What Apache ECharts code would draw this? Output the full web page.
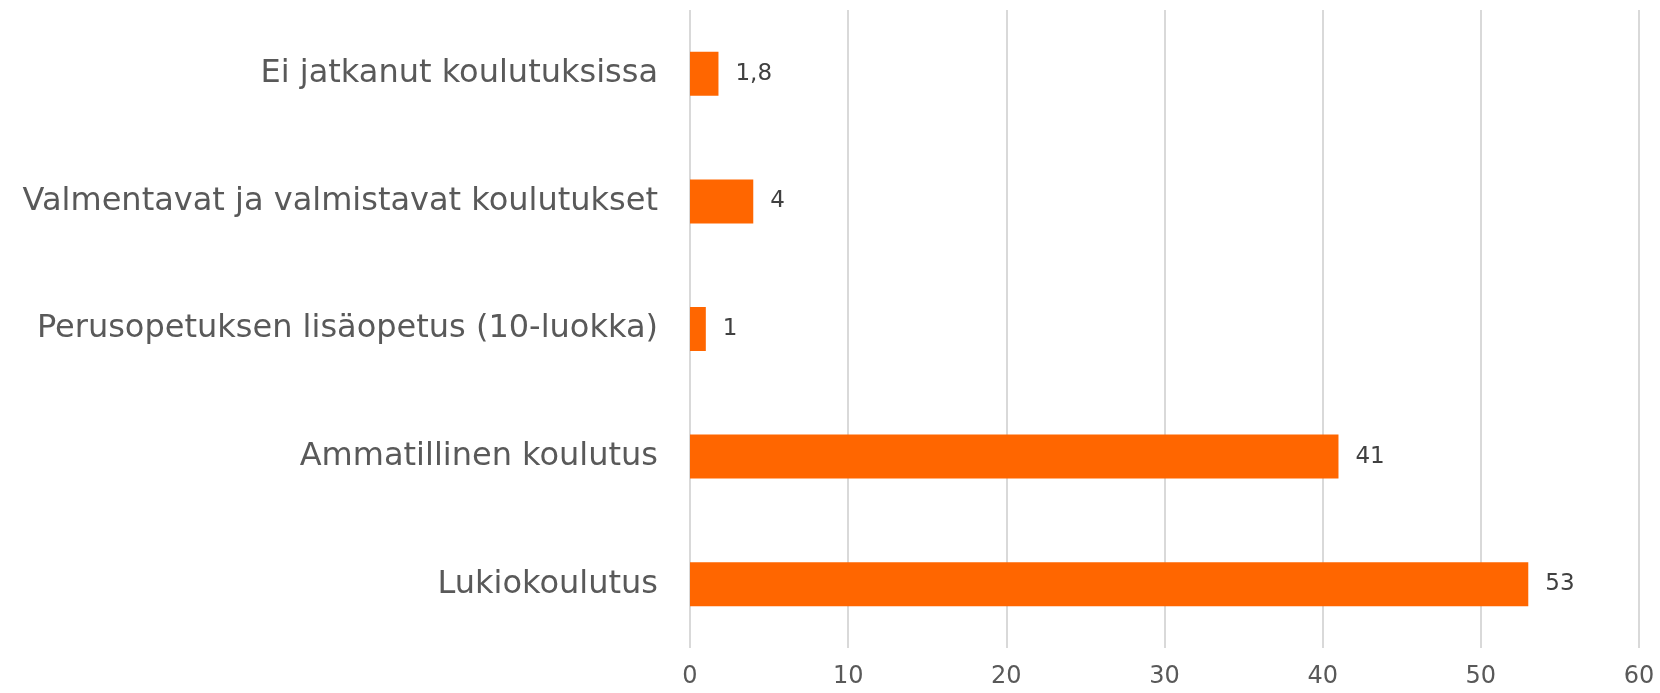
<!DOCTYPE html>
<html>
<head>
<meta charset="utf-8">
<script src="https://cdn.jsdelivr.net/npm/echarts@6/dist/echarts.min.js"></script>
<style>
  html, body { margin: 0; padding: 0; background: #fff; }
  #main { width: 1660px; height: 693px; }
</style>
</head>
<body>
<div id="main"></div>
<script>
  // data
  var categories = [
    'Ei jatkanut koulutuksissa',
    'Valmentavat ja valmistavat koulutukset',
    'Perusopetuksen lisäopetus (10-luokka)',
    'Ammatillinen koulutus',
    'Lukiokoulutus'
  ];
  var values = [1.8, 4, 1, 41, 53];
  var xTicks = [0, 10, 20, 30, 40, 50, 60];

  var myChart = echarts.init(document.getElementById('main'));

  var option = {
    animation: false,
    grid: { left: 690, right: 21, top: 10, bottom: 45 },
    xAxis: {
      type: 'value',
      min: xTicks[0],
      max: xTicks[xTicks.length - 1],
      interval: 10,
      axisLine: { show: false },
      axisTick: { show: false },
      splitLine: { lineStyle: { color: '#d9d9d9', width: 2 } },
      axisLabel: { color: '#595959', fontSize: 24, fontFamily: 'DejaVu Sans', margin: 17 }
    },
    yAxis: {
      type: 'category',
      inverse: true,
      data: categories,
      axisLine: { show: false },
      axisTick: { show: false },
      axisLabel: { color: '#595959', fontSize: 32, fontFamily: 'DejaVu Sans', margin: 32 }
    },
    series: [{
      type: 'bar',
      data: values,
      barWidth: 44,
      itemStyle: { color: '#ff6600' },
      label: {
        show: true,
        position: 'right',
        distance: 17,
        color: '#404040',
        fontSize: 23,
        fontFamily: 'DejaVu Sans',
        formatter: function (p) { return String(p.value).replace('.', ','); }
      }
    }]
  };
  myChart.setOption(option);
</script>
</body>
</html>
